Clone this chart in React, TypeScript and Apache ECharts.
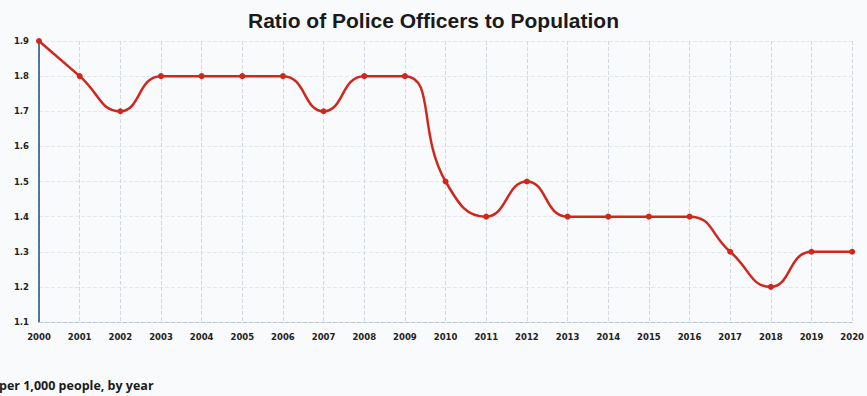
import React, { useEffect, useRef } from "react";
import * as echarts from "echarts";

const years = [
  "2000", "2001", "2002", "2003", "2004", "2005", "2006", "2007", "2008", "2009", "2010",
  "2011", "2012", "2013", "2014", "2015", "2016", "2017", "2018", "2019", "2020",
];
const officersPerThousand = [
  1.9, 1.8, 1.7, 1.8, 1.8, 1.8, 1.8, 1.7, 1.8, 1.8, 1.5,
  1.4, 1.5, 1.4, 1.4, 1.4, 1.4, 1.3, 1.2, 1.3, 1.3,
];
const chartTitle = "Ratio of Police Officers to Population";
const unitNote = "per 1,000 people, by year";

export default function App() {
  const ref = useRef<HTMLDivElement>(null);

  useEffect(() => {
    if (!ref.current) return;
    const chart = echarts.init(ref.current, null, { renderer: "svg" });
    chart.setOption({
      animation: false,
      backgroundColor: "#f8fafc",
      title: {
        text: chartTitle,
        left: "center",
        top: 5,
        textStyle: {
          fontFamily: "Liberation Sans, Arial, sans-serif",
          fontSize: 21,
          fontWeight: "bold",
          color: "#1a1a1a",
        },
      },
      graphic: [
        {
          type: "text",
          left: -1,
          top: 379,
          style: {
            text: unitNote,
            font: "bold 12.5px 'Open Sans', sans-serif",
            fill: "#1a1a1a",
          },
        },
      ],
      grid: { left: 39, right: 14, top: 41, bottom: 74 },
      xAxis: {
        type: "category",
        data: years,
        boundaryGap: false,
        axisLine: {
          show: true,
          lineStyle: { color: "#b9c5d2", type: "dashed", width: 1 },
        },
        axisTick: { show: false },
        axisLabel: {
          margin: 10,
          fontFamily: "DejaVu Sans, sans-serif",
          fontSize: 8.5,
          fontWeight: "bold",
          color: "#222",
          interval: 0,
        },
        splitLine: {
          show: true,
          lineStyle: { color: "#d3dae2", type: "dashed", width: 1 },
        },
      },
      yAxis: {
        type: "value",
        min: 1.1,
        max: 1.9,
        interval: 0.1,
        axisLine: { show: true, lineStyle: { color: "#1d4f7c", width: 1.5 } },
        axisTick: { show: false },
        axisLabel: {
          margin: 10,
          fontFamily: "DejaVu Sans, sans-serif",
          fontSize: 8.5,
          fontWeight: "bold",
          color: "#222",
          formatter: (v: number) => v.toFixed(1),
        },
        splitLine: {
          show: true,
          lineStyle: { color: "#e4e9ef", type: "dashed", width: 1 },
        },
      },
      series: [
        {
          type: "line",
          data: officersPerThousand,
          smooth: 0.5,
          symbol: "circle",
          symbolSize: 6,
          lineStyle: { color: "#d0261c", width: 2.5 },
          itemStyle: { color: "#d0261c" },
        },
      ],
    });
    return () => chart.dispose();
  }, []);

  return (
    <div
      ref={ref}
      style={{ position: "fixed", left: 0, top: 0, width: 867, height: 396 }}
    />
  );
}
